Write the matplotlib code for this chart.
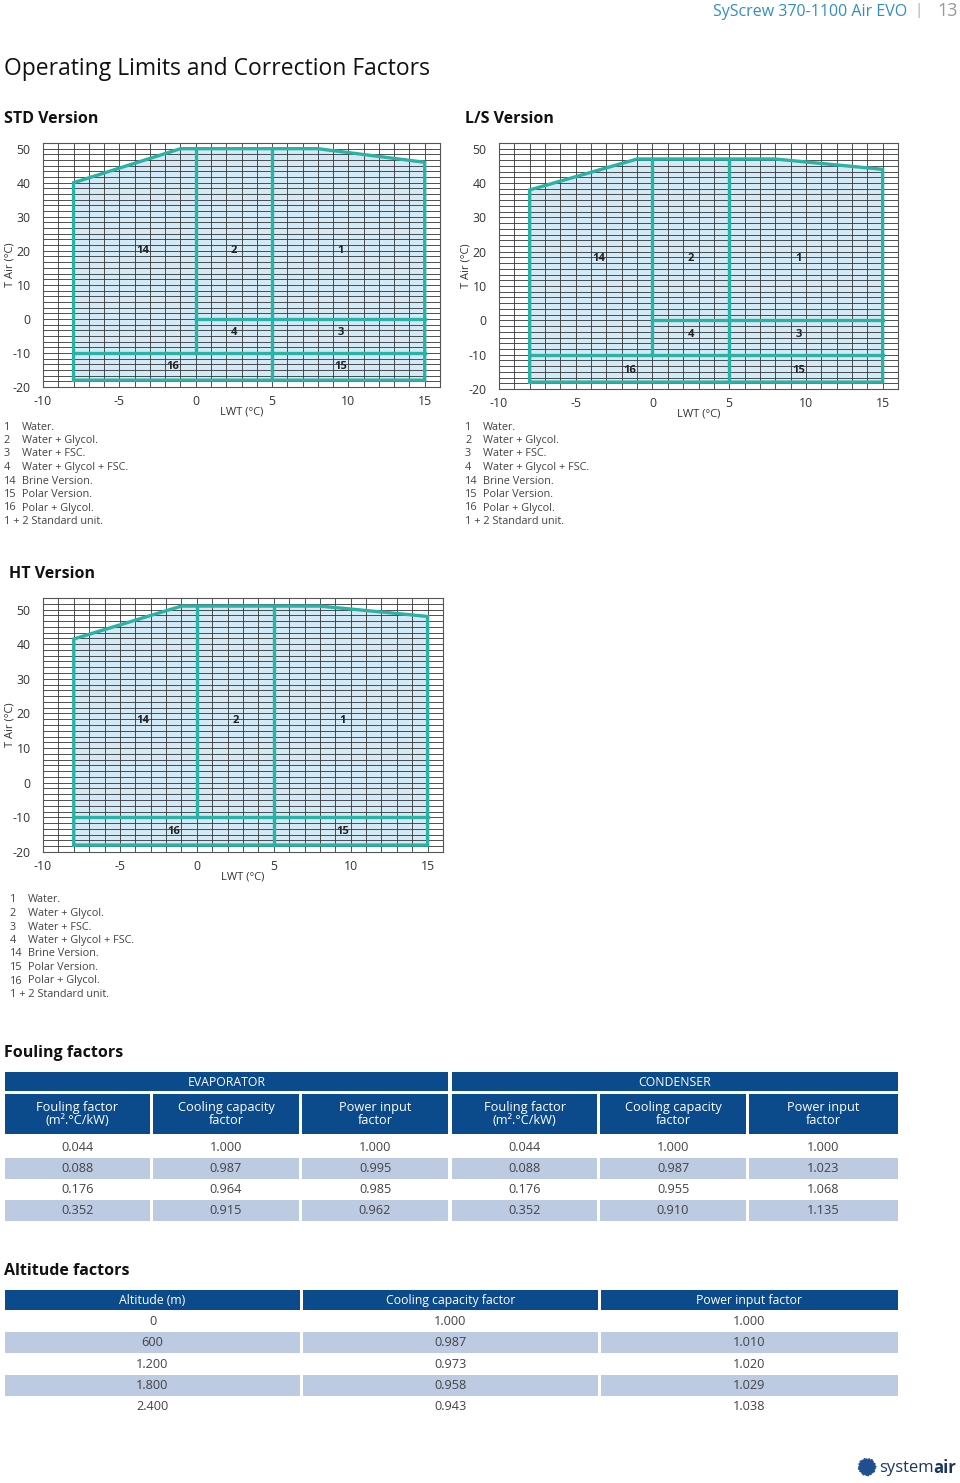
import numpy as np
import matplotlib
matplotlib.use("Agg")
import matplotlib.pyplot as plt
from matplotlib.patches import Rectangle, Polygon

plt.rcParams['font.family'] = ['Open Sans', 'DejaVu Sans']

W, H = 960, 1483

# ---------------- data ----------------
x_ticks = [-10, -5, 0, 5, 10, 15]
y_ticks = [-20, -10, 0, 10, 20, 30, 40, 50]

std_env_x = [-8, -8, -1, 8, 15, 15]
std_env_y = [-18, 40, 50, 50, 46, -18]
ls_env_x = [-8, -8, -1, 8, 15, 15]
ls_env_y = [-18, 38, 47, 47, 44, -18]
ht_env_x = [-8, -8, -1, 8, 15, 15]
ht_env_y = [-18, 41.5, 51, 51, 48, -18]

std_top = 50
ls_top = 47
ht_top = 51

region_labels = ["14", "2", "1", "4", "3", "16", "15"]
region_x = [-3.5, 2.5, 9.5, 2.5, 9.5, -1.5, 9.5]
std_region_y = [20, 20, 20, -4, -4, -14, -14]
ls_region_y = [18, 18, 18, -4, -4, -14.5, -14.5]
ht_labels = ["14", "2", "1", "16", "15"]
ht_region_x = [-3.5, 2.5, 9.5, -1.5, 9.5]
ht_region_y = [18, 18, 18, -14, -14]

legend_nums = ["1", "2", "3", "4", "14", "15", "16", "1 + 2"]
legend_texts = ["Water.", "Water + Glycol.", "Water + FSC.", "Water + Glycol + FSC.",
                "Brine Version.", "Polar Version.", "Polar + Glycol.", "Standard unit."]

foul_groups = ["EVAPORATOR", "CONDENSER"]
foul_headers = ["Fouling factor\n(m².°C/kW)", "Cooling capacity\nfactor", "Power input\nfactor",
                "Fouling factor\n(m².°C/kW)", "Cooling capacity\nfactor", "Power input\nfactor"]
evap_fouling = ["0.044", "0.088", "0.176", "0.352"]
evap_cool = ["1.000", "0.987", "0.964", "0.915"]
evap_power = ["1.000", "0.995", "0.985", "0.962"]
cond_fouling = ["0.044", "0.088", "0.176", "0.352"]
cond_cool = ["1.000", "0.987", "0.955", "0.910"]
cond_power = ["1.000", "1.023", "1.068", "1.135"]

alt_headers = ["Altitude (m)", "Cooling capacity factor", "Power input factor"]
alt_m = ["0", "600", "1.200", "1.800", "2.400"]
alt_cool = ["1.000", "0.987", "0.973", "0.958", "0.943"]
alt_power = ["1.000", "1.010", "1.020", "1.029", "1.038"]

# ---------------- style ----------------
TEAL = '#2ab2a5'
FILL = '#d3e9f6'
NAVY = '#0b4a8b'
ROWBLUE = '#bccae2'
TXT = '#333333'

fig = plt.figure(figsize=(W / 100, H / 100), dpi=100)


def px_axes(l, t, r, b):
    return fig.add_axes([l / W, 1 - b / H, (r - l) / W, (b - t) / H])


def envelope_chart(l, t, r, b, ex, ey, top, ytop, labels, lx, ly, ls_lines=True):
    ax = px_axes(l, t, r, b)
    ax.set_xlim(-10, 16)
    ax.set_ylim(-20, ytop)
    # grid
    for gx in range(-10, 17):
        ax.axvline(gx, color='#333333', lw=0.6, zorder=1)
    for gy in np.arange(-20, ytop + 0.01, 5 / 3):
        ax.axhline(gy, color='#333333', lw=0.6, zorder=1)
    ax.add_patch(Polygon(list(zip(ex, ey)), closed=True, facecolor=FILL,
                         edgecolor='none', zorder=0.5))
    ax.plot(ex + [ex[0]], ey + [ey[0]], color=TEAL, lw=2.4, zorder=3,
            solid_joinstyle='miter')
    ax.plot([0, 0], [-10, top], color=TEAL, lw=2.4, zorder=3)
    ax.plot([5, 5], [-18, top], color=TEAL, lw=2.4, zorder=3)
    ax.plot([-8, 15], [-10, -10], color=TEAL, lw=2.4, zorder=3)
    if ls_lines:
        ax.plot([0, 15], [0, 0], color=TEAL, lw=2.4, zorder=3)
    for s, x, y in zip(labels, lx, ly):
        ax.text(x, y, s, ha='center', va='center', fontsize=8, fontweight='bold',
                color='#222222', zorder=4)
    ax.set_xticks(x_ticks)
    ax.set_yticks(y_ticks)
    ax.set_xticklabels([str(v) for v in x_ticks])
    ax.set_yticklabels([str(v) for v in y_ticks])
    ax.tick_params(axis='x', length=0, labelsize=8.8, colors=TXT, pad=6)
    ax.tick_params(axis='y', length=0, labelsize=8.8, colors=TXT, pad=9)
    ax.set_xlabel('LWT (°C)', fontsize=8, color=TXT, labelpad=-1)
    ax.set_ylabel('T Air (°C)', fontsize=8, color=TXT)
    ax.yaxis.set_label_coords(-27 / (r - l), 0.5)
    for sp in ax.spines.values():
        sp.set_color('#555555')
        sp.set_linewidth(0.8)
    return ax


envelope_chart(43, 143, 440, 387, std_env_x, std_env_y, std_top, 51.67,
               region_labels, region_x, std_region_y)
envelope_chart(499, 143, 898, 389, ls_env_x, ls_env_y, ls_top, 51.67,
               region_labels, region_x, ls_region_y)
envelope_chart(43, 598, 443, 852, ht_env_x, ht_env_y, ht_top, 53.33,
               ht_labels, ht_region_x, ht_region_y, ls_lines=False)

# ---------------- overlay for text and tables ----------------
ov = fig.add_axes([0, 0, 1, 1], zorder=-1)
ov.set_xlim(0, W)
ov.set_ylim(H, 0)
ov.axis('off')

ov.text(907, 12, 'SyScrew 370-1100 Air EVO', ha='right', va='center',
        fontsize=11.5, color='#2f8fc0')
ov.text(919, 11, '|', ha='center', va='center', fontsize=11, color='#aaaaaa')
ov.text(958, 11, '13', ha='right', va='center', fontsize=13, color='#999999')

ov.text(4, 69, 'Operating Limits and Correction Factors', ha='left', va='center',
        fontsize=16.5, color='#111111')
ov.text(4, 119, 'STD Version', ha='left', va='center', fontsize=11.5,
        fontweight='bold', color='#111111')
ov.text(465, 119, 'L/S Version', ha='left', va='center', fontsize=11.5,
        fontweight='bold', color='#111111')
ov.text(9, 574, 'HT Version', ha='left', va='center', fontsize=11.5,
        fontweight='bold', color='#111111')


def legend_block(x0, y0):
    for i, (n, t) in enumerate(zip(legend_nums, legend_texts)):
        y = y0 + i * 13.5
        if n == "1 + 2":
            ov.text(x0, y, n + ' ' + t, ha='left', va='center', fontsize=7.8, color='#444444')
        else:
            ov.text(x0, y, n, ha='left', va='center', fontsize=7.8, color='#444444')
            ov.text(x0 + 18, y, t, ha='left', va='center', fontsize=7.8, color='#444444')


legend_block(4, 427)
legend_block(465, 427)
legend_block(10, 900)

# ---------------- Fouling table ----------------
ov.text(4, 1053, 'Fouling factors', ha='left', va='center', fontsize=11.5,
        fontweight='bold', color='#111111')
col_l = [5, 153, 302, 452, 600, 749]
col_r = [150, 299, 448, 597, 746, 898]
ov.add_patch(Rectangle((col_l[0], 1072), col_r[2] - col_l[0], 19, color=NAVY, lw=0))
ov.add_patch(Rectangle((col_l[3], 1072), col_r[5] - col_l[3], 19, color=NAVY, lw=0))
ov.text((col_l[0] + col_r[2]) / 2, 1082, foul_groups[0], ha='center', va='center',
        fontsize=8.8, color='white')
ov.text((col_l[3] + col_r[5]) / 2, 1082, foul_groups[1], ha='center', va='center',
        fontsize=8.8, color='white')
for j in range(6):
    ov.add_patch(Rectangle((col_l[j], 1094), col_r[j] - col_l[j], 40, color=NAVY, lw=0))
    ov.text((col_l[j] + col_r[j]) / 2, 1114.5, foul_headers[j], ha='center', va='center',
            fontsize=9.2, color='white', linespacing=1.0)
foul_cols = [evap_fouling, evap_cool, evap_power, cond_fouling, cond_cool, cond_power]
for i in range(4):
    top = 1137 + i * 21
    for j in range(6):
        if i % 2 == 1:
            ov.add_patch(Rectangle((col_l[j], top), col_r[j] - col_l[j], 21, color=ROWBLUE, lw=0))
        ov.text((col_l[j] + col_r[j]) / 2, top + 10.5, foul_cols[j][i], ha='center',
                va='center', fontsize=9.2, color='#444444')

# ---------------- Altitude table ----------------
ov.text(4, 1271, 'Altitude factors', ha='left', va='center', fontsize=11.5,
        fontweight='bold', color='#111111')
acol_l = [5, 303, 601]
acol_r = [300, 598, 898]
for j in range(3):
    ov.add_patch(Rectangle((acol_l[j], 1290), acol_r[j] - acol_l[j], 20, color=NAVY, lw=0))
    ov.text((acol_l[j] + acol_r[j]) / 2, 1300.5, alt_headers[j], ha='center', va='center',
            fontsize=8.8, color='white')
alt_cols = [alt_m, alt_cool, alt_power]
for i in range(5):
    top = 1311 + i * 21.3
    for j in range(3):
        if i % 2 == 1:
            ov.add_patch(Rectangle((acol_l[j], top), acol_r[j] - acol_l[j], 21, color=ROWBLUE, lw=0))
        ov.text((acol_l[j] + acol_r[j]) / 2, top + 10.5, alt_cols[j][i], ha='center',
                va='center', fontsize=9.2, color='#444444')

# ---------------- logo ----------------
n = np.arange(1, 90)
r = np.sqrt(n) / np.sqrt(89) * 8.5
th = n * 2.39996
ov.scatter(867 + r * np.cos(th), 1467 + r * np.sin(th), s=(1.6 - r / 8.5) * 4,
           color='#1f4f8f', lw=0)
t_sys = ov.text(879, 1468, 'system', ha='left', va='center', fontsize=12, color='#1a3560')
fig.canvas.draw()
bb = t_sys.get_window_extent(renderer=fig.canvas.get_renderer())
x_end = ov.transData.inverted().transform((bb.x1, bb.y0))[0]
ov.text(x_end, 1468, 'air', ha='left', va='center', fontsize=12, fontweight='bold',
        color='#1a3560')

fig.savefig('out.png', dpi=100)
